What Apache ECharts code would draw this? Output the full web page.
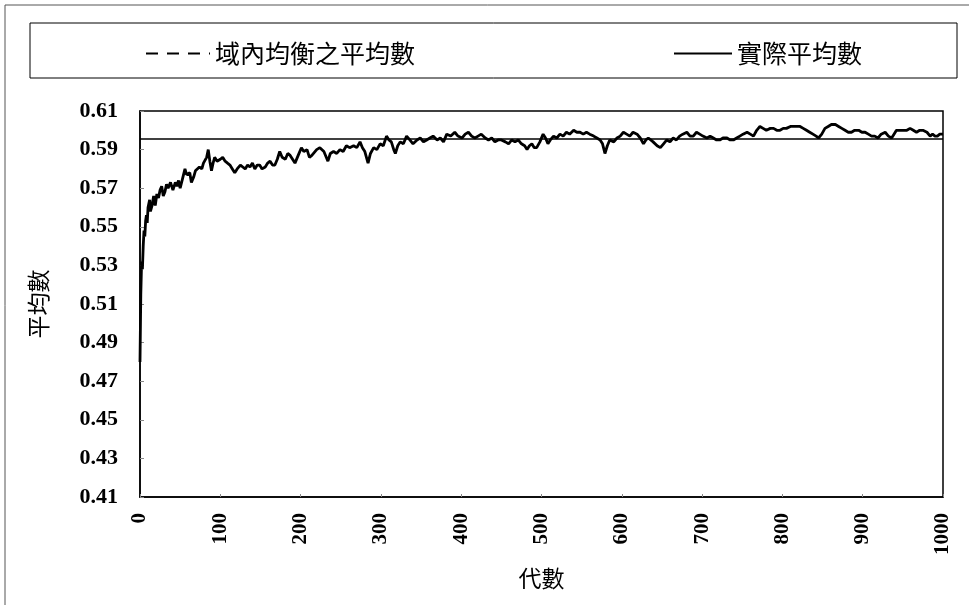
<!DOCTYPE html>
<html>
<head>
<meta charset="utf-8">
<title>平均數</title>
<script src="https://cdn.jsdelivr.net/npm/echarts@6/dist/echarts.min.js"></script>
<style>
  html, body { margin: 0; padding: 0; background: #fff; }
  #chart { width: 969px; height: 605px; }
</style>
</head>
<body>
<div id="chart"></div>
<script>
// 圖例名稱
const seriesNames = ['域內均衡之平均數', '實際平均數']

// 域內均衡之平均數 (水平線)
const equilibriumMean = 0.5955
const genRange = [0, 1000]

// 實際平均數 [代數, 平均數]
const actualMean = [
  [0, 0.480], [1, 0.515], [2, 0.532], [3, 0.528], [4, 0.540], [5, 0.548], [6, 0.545], [7, 0.553],
  [8, 0.556], [9, 0.552], [10, 0.560], [12, 0.564], [13, 0.558], [15, 0.561], [17, 0.566], [19, 0.561],
  [21, 0.567], [23, 0.565], [25, 0.569], [27, 0.571], [29, 0.566], [31, 0.568], [33, 0.572], [35, 0.570],
  [38, 0.573], [41, 0.569], [44, 0.573], [46, 0.571], [48, 0.574], [50, 0.570], [53, 0.575], [56, 0.580],
  [58, 0.577], [60, 0.576], [62, 0.578], [64, 0.573], [67, 0.576], [69, 0.579], [71, 0.578], [74, 0.581],
  [77, 0.580], [79, 0.583], [81, 0.582], [83, 0.586], [85, 0.590], [87, 0.584], [89, 0.579], [91, 0.583],
  [93, 0.586], [96, 0.584], [100, 0.585], [103, 0.586], [106, 0.584], [109, 0.583], [112, 0.582], [115, 0.580],
  [118, 0.578], [121, 0.580], [125, 0.582], [128, 0.581], [131, 0.580], [134, 0.582], [137, 0.581], [140, 0.583],
  [143, 0.580], [146, 0.582], [149, 0.582], [152, 0.580], [156, 0.581], [159, 0.583], [162, 0.584], [165, 0.582],
  [168, 0.582], [171, 0.585], [174, 0.589], [177, 0.586], [181, 0.585], [184, 0.588], [187, 0.587], [190, 0.585],
  [193, 0.583], [197, 0.587], [201, 0.591], [204, 0.589], [208, 0.590], [211, 0.586], [214, 0.587], [216, 0.588],
  [220, 0.590], [224, 0.591], [229, 0.589], [234, 0.584], [237, 0.588], [241, 0.589], [245, 0.588], [249, 0.590],
  [253, 0.589], [257, 0.592], [261, 0.591], [266, 0.592], [270, 0.591], [274, 0.594], [277, 0.591], [280, 0.589],
  [284, 0.583], [287, 0.588], [291, 0.591], [295, 0.590], [299, 0.593], [303, 0.592], [307, 0.597], [310, 0.595],
  [313, 0.594], [316, 0.590], [318, 0.588], [321, 0.592], [324, 0.594], [328, 0.593], [332, 0.597], [336, 0.595],
  [340, 0.593], [345, 0.595], [349, 0.596], [353, 0.594], [357, 0.595], [361, 0.596], [365, 0.597], [370, 0.595],
  [374, 0.596], [378, 0.594], [382, 0.598], [387, 0.597], [392, 0.599], [396, 0.597], [401, 0.596], [405, 0.598],
  [409, 0.599], [413, 0.597], [417, 0.596], [421, 0.597], [425, 0.598], [430, 0.596], [434, 0.595], [438, 0.596],
  [442, 0.594], [446, 0.595], [450, 0.595], [455, 0.594], [459, 0.593], [463, 0.595], [467, 0.594], [471, 0.595],
  [475, 0.593], [479, 0.592], [482, 0.590], [485, 0.592], [488, 0.593], [491, 0.591], [494, 0.591], [498, 0.594],
  [502, 0.598], [505, 0.596], [508, 0.593], [511, 0.595], [515, 0.597], [519, 0.596], [523, 0.598], [527, 0.597],
  [531, 0.599], [535, 0.598], [540, 0.600], [544, 0.599], [548, 0.599], [552, 0.598], [556, 0.599], [560, 0.598],
  [565, 0.597], [569, 0.596], [573, 0.595], [576, 0.593], [579, 0.588], [582, 0.592], [585, 0.595], [590, 0.594],
  [594, 0.596], [598, 0.597], [602, 0.599], [606, 0.598], [610, 0.597], [614, 0.599], [619, 0.598], [623, 0.596],
  [627, 0.593], [630, 0.595], [633, 0.596], [636, 0.595], [639, 0.594], [644, 0.592], [648, 0.591], [652, 0.593],
  [656, 0.595], [660, 0.594], [664, 0.596], [668, 0.595], [672, 0.597], [676, 0.598], [681, 0.599], [685, 0.597],
  [689, 0.597], [693, 0.599], [697, 0.598], [701, 0.597], [706, 0.596], [710, 0.597], [714, 0.596], [718, 0.595],
  [722, 0.595], [726, 0.596], [731, 0.596], [735, 0.595], [739, 0.595], [743, 0.596], [747, 0.597], [751, 0.598],
  [756, 0.599], [760, 0.598], [764, 0.597], [768, 0.600], [772, 0.602], [776, 0.601], [780, 0.600], [785, 0.601],
  [789, 0.601], [793, 0.600], [797, 0.600], [801, 0.601], [805, 0.601], [810, 0.602], [814, 0.602], [818, 0.602],
  [822, 0.602], [826, 0.601], [830, 0.600], [834, 0.599], [838, 0.598], [842, 0.597], [845, 0.596], [849, 0.598],
  [853, 0.601], [857, 0.602], [861, 0.603], [866, 0.603], [870, 0.602], [874, 0.601], [878, 0.600], [882, 0.599],
  [886, 0.599], [890, 0.600], [895, 0.600], [899, 0.599], [903, 0.599], [907, 0.598], [911, 0.597], [915, 0.597],
  [919, 0.596], [923, 0.598], [928, 0.599], [932, 0.597], [936, 0.596], [939, 0.598], [942, 0.600], [946, 0.600],
  [951, 0.600], [955, 0.600], [959, 0.601], [963, 0.600], [967, 0.599], [971, 0.600], [975, 0.600], [980, 0.599],
  [984, 0.597], [987, 0.598], [990, 0.597], [993, 0.597], [996, 0.598], [1000, 0.598]
]

const chart = echarts.init(document.getElementById('chart'))

const serif = 'Liberation Serif'
const cjk = 'Noto Sans CJK TC'

const legendText = { fontFamily: cjk, fontSize: 25, color: '#000' }
const hideSymbol = { opacity: 0 } // 圖例只畫線，不畫圓點

chart.setOption({
  backgroundColor: '#fff',
  animation: false,
  graphic: [
    { // 外框
      type: 'rect',
      shape: { x: 5, y: 5, width: 980, height: 620 },
      style: { fill: 'none', stroke: '#555', lineWidth: 1 },
      silent: true
    },
    { // 圖例框
      type: 'rect',
      shape: { x: 30, y: 23, width: 927, height: 55 },
      style: { fill: 'none', stroke: '#000', lineWidth: 1 },
      silent: true
    }
  ],
  legend: [
    {
      left: 140,
      top: 36,
      itemWidth: 64,
      itemHeight: 14,
      itemGap: 8,
      textStyle: legendText,
      data: [{ name: seriesNames[0], itemStyle: hideSymbol, lineStyle: { type: [12, 9], width: 2, color: '#000' } }]
    },
    {
      left: 668,
      top: 36,
      itemWidth: 58,
      itemHeight: 14,
      itemGap: 8,
      textStyle: legendText,
      data: [{ name: seriesNames[1], itemStyle: hideSymbol, lineStyle: { type: 'solid', width: 2, color: '#000' } }]
    }
  ],
  grid: {
    left: 140,
    right: 26,
    top: 111,
    bottom: 108,
    show: true,
    borderColor: '#000',
    borderWidth: 1.5
  },
  xAxis: {
    type: 'value',
    min: genRange[0],
    max: genRange[1],
    interval: 100,
    name: '代數',
    nameLocation: 'middle',
    nameGap: 70,
    nameTextStyle: { fontFamily: cjk, fontSize: 23, color: '#000' },
    axisLine: { show: true, lineStyle: { color: '#000', width: 1.5 } },
    axisTick: { show: true, inside: true, length: 3, lineStyle: { color: '#888' } },
    splitLine: { show: false },
    axisLabel: {
      rotate: 90,
      margin: 16,
      fontFamily: serif,
      fontWeight: 'bold',
      fontSize: 21,
      color: '#000',
      formatter: v => String(v)
    }
  },
  yAxis: {
    type: 'value',
    min: 0.41,
    max: 0.61,
    interval: 0.02,
    name: '平均數',
    nameLocation: 'middle',
    nameGap: 90,
    nameRotate: 90,
    nameTextStyle: { fontFamily: cjk, fontSize: 23, color: '#000' },
    axisLine: { show: true, lineStyle: { color: '#000', width: 1.5 } },
    axisTick: { show: true, inside: true, length: 4, lineStyle: { color: '#888' } },
    splitLine: { show: false },
    axisLabel: {
      margin: 22,
      fontFamily: serif,
      fontWeight: 'bold',
      fontSize: 22,
      color: '#000',
      formatter: v => v.toFixed(2)
    }
  },
  series: [
    {
      name: seriesNames[0],
      type: 'line',
      data: [[genRange[0], equilibriumMean], [genRange[1], equilibriumMean]],
      symbol: 'none',
      itemStyle: { color: '#000' },
      lineStyle: { color: '#000', width: 1.5, type: 'solid' },
      z: 3
    },
    {
      name: seriesNames[1],
      type: 'line',
      data: actualMean,
      symbol: 'none',
      itemStyle: { color: '#000' },
      lineStyle: { color: '#000', width: 2.8 },
      z: 4
    }
  ]
})
</script>
</body>
</html>
